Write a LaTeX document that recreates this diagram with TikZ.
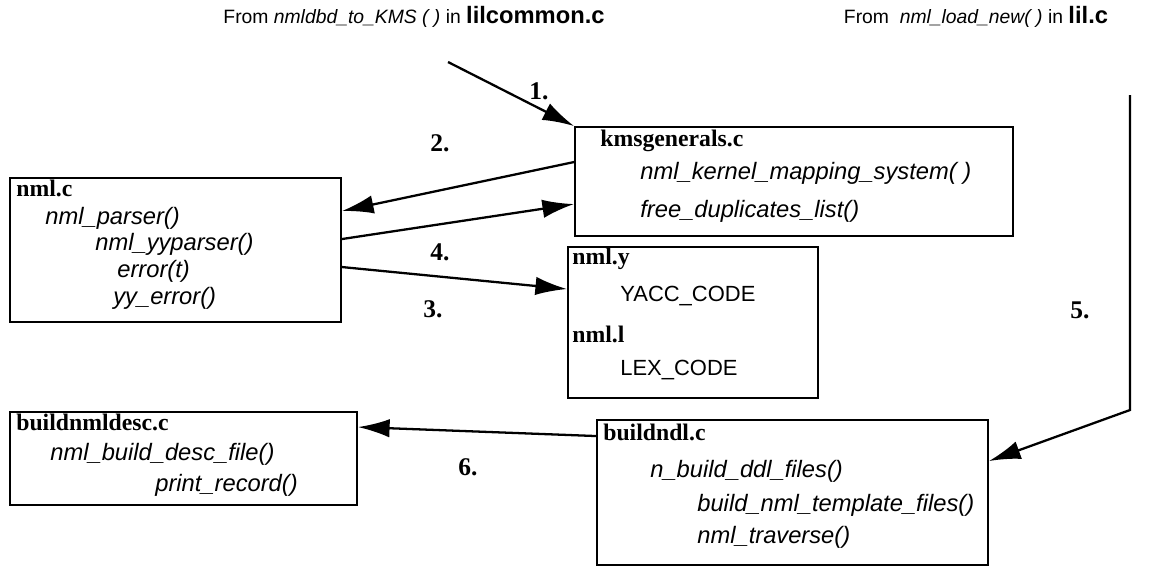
\documentclass[tikz,border=0pt]{standalone}
\usepackage{fontspec}
\setmainfont{Liberation Serif}
\setsansfont{Liberation Sans}
\usetikzlibrary{arrows.meta, calc, fit}

\begin{document}
\begin{tikzpicture}[
  x=0.02cm, y=-0.02cm,
  filebox/.style={draw, line width=1.1pt, inner sep=0pt},
  fname/.style={anchor=west, inner sep=0pt, font=\fontsize{13.5}{15}\selectfont\bfseries},
  func/.style={anchor=west, inner sep=0pt, font=\fontsize{13.5}{15}\selectfont\sffamily\itshape},
  code/.style={anchor=west, inner sep=0pt, font=\fontsize{12.5}{14}\selectfont\sffamily},
  src/.style={inner sep=0pt, font=\fontsize{11}{13}\selectfont\sffamily},
  stepno/.style={inner sep=0pt, font=\fontsize{14.5}{16}\selectfont\bfseries},
  call/.style={line width=1.3pt, -{Latex[length=18pt,width=10.5pt]}}
]
  \useasboundingbox (0,0) rectangle (1158,579);

  % callers
  \node[src] (from1) at (414,17) {From \textit{nmldbd\_to\_KMS ( )} in {\fontsize{13.5}{15}\selectfont\bfseries lilcommon.c}};
  \node[src] (from2) at (976,17) {From \ \textit{nml\_load\_new( )} in {\fontsize{13.5}{15}\selectfont\bfseries lil.c}};

  % kmsgenerals.c
  \node[filebox, fit={(575,127) (1013,236)}] (kms) {};
  \node[fname] (kmst) at (600,141) {kmsgenerals.c};
  \node[func] at (640,173) {nml\_kernel\_mapping\_system( )};
  \node[func] at (640,211) {free\_duplicates\_list()};

  % nml.c
  \node[filebox, fit={(10,178) (341,322)}] (nmlc) {};
  \node[fname] (nmlct) at (16,188) {nml.c};
  \node[func] at (45,218) {nml\_parser()};
  \node[func] at (95,244) {nml\_yyparser()};
  \node[func] at (117,271) {error(t)};
  \node[func] at (113,298) {yy\_error()};

  % nml.y / nml.l
  \node[filebox, fit={(568,247) (818,398)}] (nmly) {};
  \node[fname] (nmlyt) at (572,259) {nml.y};
  \node[code] at (620,296) {YACC\_CODE};
  \node[fname] (nmllt) at (572,334) {nml.l};
  \node[code] at (620,370) {LEX\_CODE};

  % buildnmldesc.c
  \node[filebox, fit={(10,412) (357,505)}] (desc) {};
  \node[fname] (desct) at (16,422) {buildnmldesc.c};
  \node[func] at (50,454) {nml\_build\_desc\_file()};
  \node[func] at (155,485) {print\_record()};

  % buildndl.c
  \node[filebox, fit={(597,420) (988,565)}] (ndl) {};
  \node[fname] (ndlt) at (603,432) {buildndl.c};
  \node[func] at (650,471) {n\_build\_ddl\_files()};
  \node[func] at (697,505) {build\_nml\_template\_files()};
  \node[func] at (697,537) {nml\_traverse()};

  % calls
  \coordinate (in1) at (448,62);
  \coordinate (in5) at (1130,95);
  \coordinate (bend5) at (1130,410);
  \draw[call] (in1) -- (kms.north west);
  \draw[call] ($(kms.north west)+(0,36)$) -- ($(nmlc.north east)+(0,34)$);
  \draw[call] ($(nmlc.north east)+(0,62)$) -- ($(kms.north west)+(0,78)$);
  \draw[call] ($(nmlc.north east)+(0,90)$) -- ($(nmly.north west)+(0,43)$);
  \draw[call] (in5) -- (bend5) -- ($(ndl.north east)+(0,42)$);
  \draw[call] ($(ndl.north west)+(0,17)$) -- ($(desc.north east)+(0,16)$);

  \node[stepno] (s1) at (539,91) {1.};
  \node[stepno] (s2) at (440,143) {2.};
  \node[stepno] (s3) at (433,309) {3.};
  \node[stepno] (s4) at (440,252) {4.};
  \node[stepno] (s5) at (1080,310) {5.};
  \node[stepno] (s6) at (468,467) {6.};
\end{tikzpicture}
\end{document}
